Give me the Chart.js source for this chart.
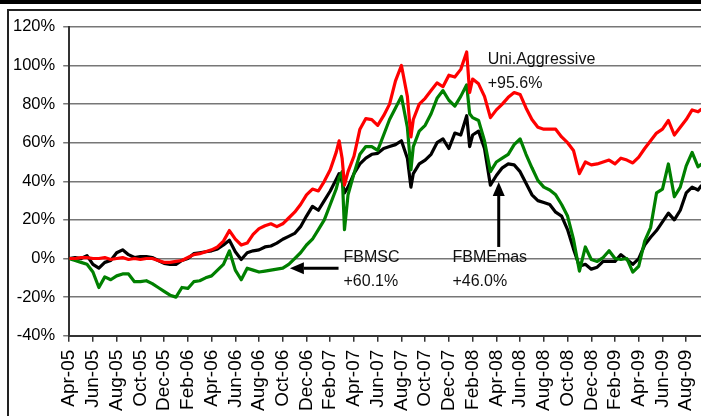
<!DOCTYPE html>
<html lang="en">
<head>
  <meta charset="utf-8">
  <title>Uni.Aggressive vs FBMSC vs FBMEmas</title>
  <script src="https://cdn.jsdelivr.net/npm/chart.js"></script>
  <style>
    html, body { margin: 0; padding: 0; background: #fff; overflow: hidden; }
    body { width: 701px; height: 416px; position: relative; }
    #topbar { position: absolute; left: 0; top: 0; width: 701px; height: 4px; background: #000; }
    #frame { position: absolute; left: 7px; top: 9px; width: 694px; height: 407px;
             border-left: 2px solid #222; border-top: 2px solid #222; }
    #wrap { position: absolute; left: 5px; top: 9px; width: 712px; height: 410px; }
  </style>
</head>
<body>
  <div id="topbar"></div>
  <div id="frame"></div>
  <div id="wrap"><canvas id="chart"></canvas></div>

  <script>
    // x position of each reading, in months after Apr-05
    const months = [
      0, 0.5, 1, 1.5, 2, 2.5, 3, 3.5, 4, 4.5,
      5, 5.5, 6, 6.5, 7, 7.5, 8, 8.5, 9, 9.5,
      10, 10.5, 11, 11.5, 12, 12.5, 13, 13.5, 14, 14.5,
      15, 15.5, 16, 16.5, 17, 17.5, 18, 18.5, 19, 19.5,
      20, 20.5, 21, 21.5, 22, 22.5, 22.75, 23, 23.2, 23.5,
      24, 24.5, 25, 25.5, 26, 26.5, 27, 27.5, 28, 28.5,
      28.8, 29, 29.5, 30, 30.5, 31, 31.5, 32, 32.5, 33,
      33.5, 33.75, 34, 34.5, 35, 35.5, 36, 36.5, 37, 37.5,
      38, 38.5, 39, 39.5, 40, 40.5, 41, 41.5, 42, 42.5,
      43, 43.5, 44, 44.5, 45, 45.5, 46, 46.5, 47, 47.5,
      48, 48.5, 49, 49.5, 50, 50.5, 51, 51.5, 52, 52.5,
      53, 53.3
    ];

    const tickLabels = [
      'Apr-05', 'Jun-05', 'Aug-05', 'Oct-05', 'Dec-05', 'Feb-06', 'Apr-06',
      'Jun-06', 'Aug-06', 'Oct-06', 'Dec-06', 'Feb-07', 'Apr-07', 'Jun-07',
      'Aug-07', 'Oct-07', 'Dec-07', 'Feb-08', 'Apr-08', 'Jun-08', 'Aug-08',
      'Oct-08', 'Dec-08', 'Feb-09', 'Apr-09', 'Jun-09', 'Aug-09'
    ];

    const uniAggressive = [
      0, 0, 0.5, 0.5, 0, 0, 0.5, -0.5, 0, 0.5,
      -0.5, 0, -0.5, 0, 0, -1, -2, -2, -1.5, -1,
      0.5, 2, 2.5, 3.5, 4.5, 6, 9, 14.5, 10, 7,
      8, 12.5, 15.5, 17, 18, 16.5, 18, 21, 24, 28,
      33, 36, 35, 40, 46, 55, 61, 52, 38, 45,
      53, 67, 72.5, 72, 69, 74, 80, 92, 100, 84,
      63, 72, 80, 83, 87, 91, 89, 95, 94, 98,
      107, 86, 93, 90.5, 84, 73, 77, 80, 83.5, 86,
      85, 78, 72, 68, 67, 67, 67, 63, 60, 56,
      44, 50, 48.5, 49, 50, 51, 49, 52, 51, 49.5,
      52.5, 57, 61, 65, 67, 71.5, 64, 68, 72, 77,
      76, 77.5
    ];

    const fbmsc = [
      0, -1, -2, -3, -7, -15, -9.5, -11, -9, -8,
      -8, -12, -12, -11.5, -13, -15, -17, -19, -20, -15,
      -15.5, -12, -11.5, -10, -9, -6, -3, 4, -6, -11,
      -5, -6, -7, -6.5, -6, -5.5, -5, -3, 0, 3,
      7, 10, 15, 20, 28, 36, 42, 45, 15, 33,
      44, 54, 58, 58, 56, 64, 72, 78, 84, 68,
      46, 58, 66, 69, 75, 83, 87, 82, 79, 84,
      90, 75, 73, 71.5, 61, 45, 50, 52, 54, 59,
      62, 54, 47, 40.5, 37, 35.5, 33, 28, 22, 10,
      -6.5, 6, -0.5, -1.5, 0.5, 4, 0, -0.5, 0, -7,
      -4, 9, 16, 34, 36, 49, 32, 37, 48, 55,
      47.5, 49
    ];

    const fbmEmas = [
      0, 0.5, 0, 1.5, -3, -5, -2, -1, 3, 4.5,
      2, 0.5, 1, 1, 0.5, -1, -2.5, -3, -3, -1,
      0, 2.5, 3, 3.5, 4, 5, 7, 9.5, 3.5, -0.5,
      3, 4, 4.5, 6, 6.5, 8, 10, 11.5, 13, 16.5,
      22, 27, 25, 30, 35, 41, 44, 40, 34, 37,
      44, 49, 52, 54, 54.5, 57, 58, 59, 61, 52,
      37, 44, 49, 51, 54, 60, 62, 57, 65, 64,
      74, 58, 64, 66, 57, 38, 43, 47, 49, 48.5,
      45, 39, 33, 30, 29, 28, 24, 22, 15, 5,
      -4, -3, -5.5, -4.5, -1.5, -1.5, -1.5, 2, -0.5, -3,
      0, 7, 11, 14.5, 19, 23.5, 20, 25, 34, 37,
      35.5, 38
    ];

    // text notes and arrows, anchored in chart units (months, percent)
    const notes = [
      { lines: ['Uni.Aggressive', '+95.6%'], x: 35.27, y: 103 },
      { lines: ['FBMSC', '+60.1%'], x: 23.12, y: 0.5 },
      { lines: ['FBMEmas', '+46.0%'], x: 32.3, y: 0.5 }
    ];
    const arrows = [
      { from: [22.7, -5], to: [18.6, -5] },
      { from: [36.2, 6], to: [36.2, 39.7] }
    ];

    const FONT = '"Liberation Sans", Arial, sans-serif';

    const toPoints = vals => vals.map((v, i) => ({ x: months[i], y: v }));

    const notesPlugin = {
      id: 'notes',
      afterDatasetsDraw(chart) {
        const ctx = chart.ctx;
        const sx = chart.scales.x, sy = chart.scales.y;
        ctx.save();
        ctx.fillStyle = '#111';
        ctx.font = '16px ' + FONT;
        ctx.textAlign = 'left';
        ctx.textBaseline = 'middle';
        notes.forEach(n => {
          const px = sx.getPixelForValue(n.x);
          const py = sy.getPixelForValue(n.y);
          n.lines.forEach((t, i) => ctx.fillText(t, px, py + i * 24));
        });

        ctx.strokeStyle = '#000';
        ctx.fillStyle = '#000';
        ctx.lineWidth = 3;
        arrows.forEach(a => {
          const x0 = sx.getPixelForValue(a.from[0]), y0 = sy.getPixelForValue(a.from[1]);
          const x1 = sx.getPixelForValue(a.to[0]), y1 = sy.getPixelForValue(a.to[1]);
          const ang = Math.atan2(y1 - y0, x1 - x0);
          const head = 14, half = 6;
          const bx = x1 - head * Math.cos(ang), by = y1 - head * Math.sin(ang);
          ctx.beginPath();
          ctx.moveTo(x0, y0);
          ctx.lineTo(bx, by);
          ctx.stroke();
          ctx.beginPath();
          ctx.moveTo(x1, y1);
          ctx.lineTo(bx + half * Math.sin(ang), by - half * Math.cos(ang));
          ctx.lineTo(bx - half * Math.sin(ang), by + half * Math.cos(ang));
          ctx.closePath();
          ctx.fill();
        });
        ctx.restore();
      }
    };

    new Chart(document.getElementById('chart'), {
      type: 'line',
      data: {
        datasets: [
          { label: 'Uni.Aggressive', data: toPoints(uniAggressive), borderColor: '#ff0000' },
          { label: 'FBMSC', data: toPoints(fbmsc), borderColor: '#008000' },
          { label: 'FBMEmas', data: toPoints(fbmEmas), borderColor: '#000000' }
        ]
      },
      options: {
        responsive: true,
        maintainAspectRatio: false,
        animation: false,
        devicePixelRatio: 1,
        layout: { padding: { left: 0, top: 7, right: 0, bottom: 0 } },
        elements: {
          line: { borderWidth: 3.2, tension: 0, borderJoinStyle: 'round', fill: false },
          point: { radius: 0, hoverRadius: 0 }
        },
        plugins: { legend: { display: false }, tooltip: { enabled: false } },
        scales: {
          x: {
            type: 'linear',
            min: 0,
            max: 53.33,
            grid: { drawOnChartArea: false, tickLength: 6, color: '#333', lineWidth: 1.5 },
            border: { color: '#333', width: 2 },
            ticks: {
              stepSize: 2,
              includeBounds: false,
              autoSkip: false,
              maxRotation: 90,
              minRotation: 90,
              padding: 8,
              color: '#000',
              font: { family: FONT, size: 19 },
              callback: v => tickLabels[Math.round(v / 2)]
            }
          },
          y: {
            min: -40,
            max: 120,
            grid: { color: '#777', lineWidth: 1.5, tickLength: 6 },
            border: { color: '#333', width: 2 },
            ticks: {
              stepSize: 20,
              padding: 8,
              color: '#000',
              font: { family: FONT, size: 16.5 },
              callback: v => v + '%'
            }
          }
        }
      },
      plugins: [notesPlugin]
    });
  </script>
</body>
</html>
